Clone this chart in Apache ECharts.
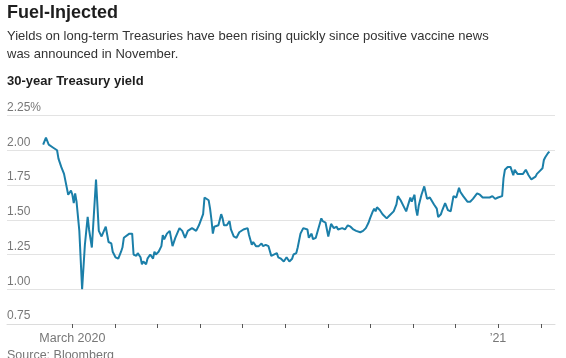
<!DOCTYPE html>
<html>
<head>
<meta charset="utf-8">
<script src="https://cdn.jsdelivr.net/npm/echarts@6/dist/echarts.min.js"></script>
<style>
html,body{margin:0;padding:0;background:#fff;}
#chart{width:566px;height:358px;}
</style>
</head>
<body>
<div id="chart"></div>
<script>
const titleText = 'Fuel-Injected';
const subtitleText = 'Yields on long-term Treasuries have been rising quickly since positive vaccine news\nwas announced in November.';
const chartLabel = '30-year Treasury yield';
const sourceText = 'Source: Bloomberg';

const dates = [
'2020-02-09','2020-02-11','2020-02-13','2020-02-16','2020-02-19','2020-02-20','2020-02-22','2020-02-24','2020-02-25','2020-02-27','2020-02-29',
'2020-03-01','2020-03-02','2020-03-03','2020-03-04','2020-03-06','2020-03-08','2020-03-10','2020-03-12','2020-03-13','2020-03-15','2020-03-18','2020-03-20','2020-03-22','2020-03-25','2020-03-27','2020-03-29','2020-03-30',
'2020-04-01','2020-04-03','2020-04-05','2020-04-06','2020-04-07','2020-04-08','2020-04-11','2020-04-13','2020-04-14','2020-04-16','2020-04-17','2020-04-19','2020-04-20','2020-04-21','2020-04-23','2020-04-24','2020-04-26','2020-04-28','2020-04-29','2020-04-30',
'2020-05-02','2020-05-04','2020-05-05','2020-05-06','2020-05-08','2020-05-10','2020-05-12','2020-05-14','2020-05-17','2020-05-19','2020-05-21','2020-05-23','2020-05-26','2020-05-27','2020-05-29','2020-05-31',
'2020-06-03','2020-06-04','2020-06-05','2020-06-07','2020-06-08','2020-06-09','2020-06-10','2020-06-11','2020-06-14','2020-06-16','2020-06-17','2020-06-18','2020-06-20','2020-06-22','2020-06-23','2020-06-25','2020-06-27','2020-06-29',
'2020-07-02','2020-07-05','2020-07-06','2020-07-08','2020-07-09','2020-07-11','2020-07-13','2020-07-14','2020-07-15','2020-07-16','2020-07-18','2020-07-20','2020-07-22','2020-07-23','2020-07-26','2020-07-27','2020-07-29','2020-07-31',
'2020-08-01','2020-08-02','2020-08-04','2020-08-06','2020-08-07','2020-08-09','2020-08-10','2020-08-12','2020-08-14','2020-08-15','2020-08-17','2020-08-18','2020-08-20','2020-08-21','2020-08-23','2020-08-25','2020-08-27','2020-08-28','2020-08-30',
'2020-09-01','2020-09-02','2020-09-03','2020-09-05','2020-09-07','2020-09-08','2020-09-11','2020-09-13','2020-09-15','2020-09-17','2020-09-19','2020-09-21','2020-09-24','2020-09-26','2020-09-28','2020-09-30',
'2020-10-01','2020-10-03','2020-10-04','2020-10-05','2020-10-06','2020-10-08','2020-10-10','2020-10-13','2020-10-15','2020-10-18','2020-10-20','2020-10-21','2020-10-23','2020-10-25','2020-10-27','2020-10-28','2020-10-30','2020-10-31',
'2020-11-01','2020-11-02','2020-11-03','2020-11-04','2020-11-05','2020-11-07','2020-11-09','2020-11-11','2020-11-13','2020-11-14','2020-11-16','2020-11-18','2020-11-19','2020-11-21','2020-11-22','2020-11-24','2020-11-26','2020-11-28','2020-11-29','2020-11-30',
'2020-12-02','2020-12-04','2020-12-05','2020-12-07','2020-12-08','2020-12-10','2020-12-12','2020-12-14','2020-12-17','2020-12-19','2020-12-21','2020-12-22','2020-12-23','2020-12-26','2020-12-28','2020-12-30',
'2021-01-01','2021-01-04','2021-01-05','2021-01-06','2021-01-08','2021-01-10','2021-01-11','2021-01-12','2021-01-13','2021-01-15','2021-01-17','2021-01-19','2021-01-21','2021-01-23','2021-01-25','2021-01-26','2021-01-28','2021-01-29','2021-01-31',
'2021-02-02','2021-02-03','2021-02-04','2021-02-06','2021-02-07'
];

const yields = [
2.04,2.09,2.04,2.02,2.00,1.94,1.88,1.83,1.82,1.68,1.71,
1.68,1.62,1.69,1.63,1.42,1.00,1.32,1.52,1.43,1.30,1.79,1.42,1.38,1.45,1.34,1.33,1.27,
1.23,1.22,1.27,1.30,1.37,1.36,1.40,1.40,1.25,1.24,1.26,1.23,1.18,1.20,1.18,1.22,1.25,1.22,1.27,1.25,
1.27,1.31,1.39,1.36,1.40,1.42,1.31,1.37,1.44,1.42,1.37,1.42,1.44,1.45,1.42,1.46,
1.54,1.66,1.67,1.64,1.58,1.50,1.40,1.45,1.46,1.54,1.51,1.46,1.46,1.49,1.43,1.38,1.37,1.41,
1.43,1.44,1.39,1.32,1.34,1.31,1.31,1.32,1.33,1.31,1.32,1.31,1.24,1.23,1.26,1.23,1.22,1.20,
1.21,1.23,1.20,1.22,1.25,1.26,1.30,1.40,1.44,1.45,1.43,1.37,1.40,1.36,1.37,1.44,1.51,1.49,1.48,
1.38,1.37,1.47,1.44,1.45,1.43,1.44,1.43,1.46,1.45,1.43,1.42,1.41,1.42,1.44,1.48,
1.51,1.56,1.58,1.56,1.59,1.57,1.54,1.51,1.53,1.56,1.61,1.67,1.64,1.60,1.56,1.55,1.66,1.63,
1.62,1.68,1.58,1.53,1.60,1.68,1.74,1.65,1.66,1.67,1.61,1.58,1.52,1.54,1.57,1.62,1.57,1.56,1.56,1.67,
1.66,1.73,1.70,1.67,1.68,1.63,1.63,1.65,1.69,1.68,1.66,1.67,1.66,1.66,1.67,1.65,
1.66,1.67,1.80,1.86,1.88,1.88,1.87,1.82,1.86,1.83,1.83,1.83,1.86,1.82,1.79,1.78,1.81,1.83,1.85,
1.87,1.93,1.95,1.98,1.99
];

const yTicks = [0.75, 1.00, 1.25, 1.50, 1.75, 2.00, 2.25];
const monthTicks = ['2020-03-01','2020-04-01','2020-05-01','2020-06-01','2020-07-01','2020-08-01','2020-09-01','2020-10-01','2020-11-01','2020-12-01','2021-01-01','2021-02-01'];
const labelTicks = ['2020-03-01','2021-01-01'];
const labelTexts = ['March 2020','\u201921'];

function ts(s){ const p = s.split('-').map(Number); return Date.UTC(p[0], p[1]-1, p[2]); }

const chart = echarts.init(document.getElementById('chart'), null, {renderer:'canvas'});
const FONT = '"Liberation Sans", Arial, sans-serif';
chart.setOption({
  animation: false,
  backgroundColor: '#fff',
  title: [
    {text: titleText, left: 7, top: 4, padding: 0, textStyle:{fontFamily: FONT, fontSize: 18, fontWeight: 'bold', color: '#1e1e1e'}},
    {text: subtitleText, left: 7, top: 27, padding: 0, textStyle:{fontFamily: FONT, fontSize: 13, fontWeight: 'normal', color: '#333', lineHeight: 18}},
    {text: chartLabel, left: 7, top: 75, padding: 0, textStyle:{fontFamily: FONT, fontSize: 13, fontWeight: 'bold', color: '#1e1e1e'}},
    {text: sourceText, left: 7, top: 349, padding: 0, textStyle:{fontFamily: FONT, fontSize: 12.5, fontWeight: 'normal', color: '#777'}}
  ],
  grid: {left: 7, right: 11, top: 115.5, bottom: 34, containLabel: false},
  xAxis: {
    type: 'value',
    min: ts('2020-01-14'),
    max: ts('2021-02-11'),
    axisLine: {show: true, lineStyle: {color: '#dcdcdc', width: 1}},
    axisTick: {show: true, length: 4, lineStyle: {color: '#555', width: 1}, customValues: monthTicks.map(ts)},
    axisLabel: {
      show: true, margin: 8, color: '#777', fontFamily: FONT, fontSize: 12.5,
      customValues: labelTicks.map(ts),
      formatter: function(v){ return v === ts(labelTicks[0]) ? labelTexts[0] : labelTexts[1]; }
    },
    splitLine: {show: false}
  },
  yAxis: {
    type: 'value',
    min: 0.75, max: 2.25, interval: 0.25,
    axisLine: {show: false},
    axisTick: {show: false},
    axisLabel: {
      inside: true, margin: 0, verticalAlign: 'bottom', padding: [0,0,2,0],
      color: '#777', fontFamily: FONT, fontSize: 12,
      formatter: function(v){ return Math.abs(v - 2.25) < 1e-9 ? v.toFixed(2) + '%' : v.toFixed(2); }
    },
    splitLine: {show: true, lineStyle: {color: '#e3e3e3', width: 1}}
  },
  series: [{
    type: 'line',
    data: dates.map((d, i) => [ts(d), yields[i]]),
    showSymbol: false,
    smooth: false,
    lineStyle: {color: '#1b7fa9', width: 2},
    itemStyle: {color: '#1b7fa9'},
    z: 5
  }]
});
</script>
</body>
</html>
